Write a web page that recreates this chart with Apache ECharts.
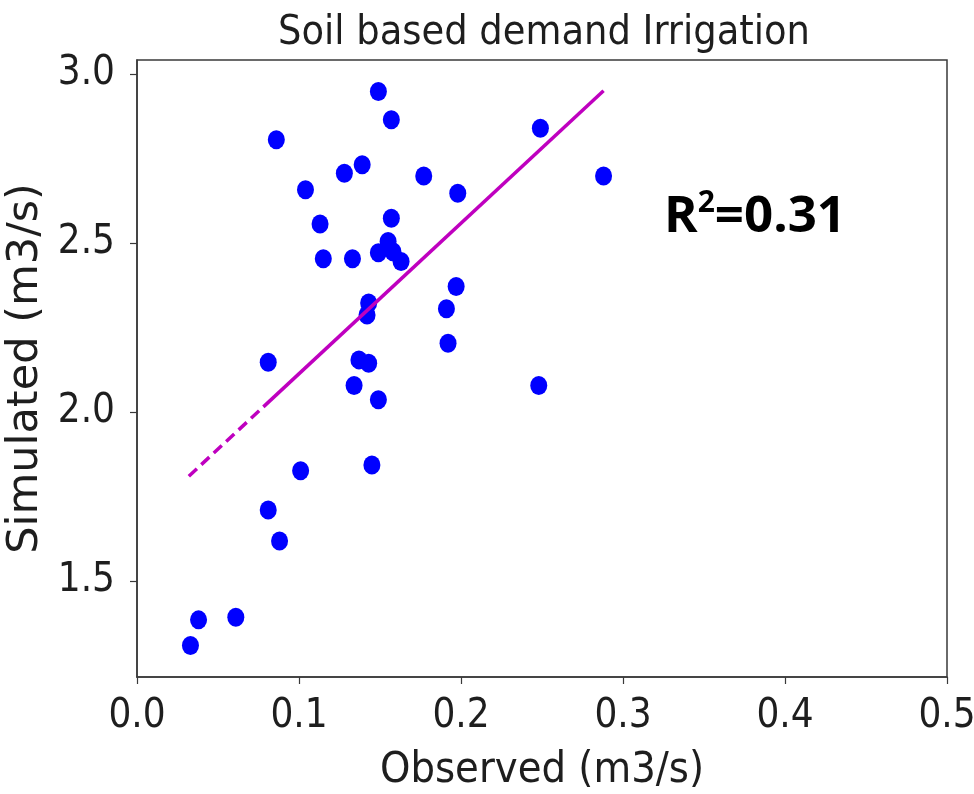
<!DOCTYPE html>
<html>
<head>
<meta charset="utf-8">
<script src="https://cdn.jsdelivr.net/npm/echarts@6/dist/echarts.min.js"></script>
<style>
  html, body { margin: 0; padding: 0; background: #fff; }
  #chart { width: 974px; height: 794px; }
</style>
</head>
<body>
<div id="chart"></div>
<script>
const observed = [
  0.149, 0.157, 0.086, 0.249, 0.139, 0.128, 0.177, 0.288, 0.104, 0.198,
  0.157, 0.113, 0.155, 0.149, 0.158, 0.163, 0.115, 0.133, 0.197, 0.143,
  0.142, 0.191, 0.192, 0.081, 0.137, 0.143, 0.134, 0.248, 0.149, 0.101,
  0.145, 0.081, 0.088, 0.038, 0.061, 0.033,
];
const simulated = [
  2.948, 2.864, 2.805, 2.839, 2.731, 2.706, 2.698, 2.698, 2.657, 2.647,
  2.573, 2.556, 2.504, 2.471, 2.474, 2.445, 2.453, 2.453, 2.371, 2.322,
  2.287, 2.305, 2.203, 2.147, 2.154, 2.144, 2.078, 2.078, 2.036, 1.826,
  1.843, 1.710, 1.618, 1.385, 1.393, 1.309,
];
// fitted line: dashed start, then solid
const fitObs = [0.032, 0.078, 0.288];
const fitSim = [1.81, 2.015, 2.95];

const xTicks = [0, 0.1, 0.2, 0.3, 0.4, 0.5];
const yTicks = [1.5, 2.0, 2.5, 3.0];

const narrowFont = '"DejaVu Sans Condensed", "Liberation Sans Narrow", "DejaVu Sans", sans-serif';
const wideFont = '"DejaVu Sans", sans-serif';
const ink = "#1e1e1e";
const frame = "#3a3a3a";

const chart = echarts.init(document.getElementById("chart"), null, { renderer: "canvas" });

chart.setOption({
  backgroundColor: "#fff",
  animation: false,
  title: {
    text: "Soil based demand Irrigation",
    left: 539,
    textAlign: "center",
    top: 8,
    textStyle: { fontFamily: narrowFont, fontWeight: "normal", fontSize: 41, color: ink },
  },
  grid: {
    left: 137, right: 27, top: 60, bottom: 117,
    outerBoundsMode: "none",
    containLabel: false,
    show: true, borderColor: frame, borderWidth: 1.5, backgroundColor: "#fff",
  },
  xAxis: {
    type: "value",
    min: 0, max: 0.5, interval: 0.1,
    name: "Observed (m3/s)",
    nameLocation: "middle",
    nameGap: 72,
    nameTextStyle: { fontFamily: narrowFont, fontSize: 43, color: ink },
    axisLine: { show: true, onZero: false, lineStyle: { color: frame, width: 1.5 } },
    axisTick: { show: true, length: 7, inside: false, lineStyle: { color: frame, width: 1.2 },
      customValues: xTicks },
    axisLabel: { fontFamily: narrowFont, fontSize: 40, color: ink, margin: 20,
      customValues: xTicks, formatter: (v) => v.toFixed(1) },
    splitLine: { show: false },
  },
  yAxis: {
    type: "value",
    min: 1.216, max: 3.041,
    name: "Simulated (m3/s)",
    nameLocation: "middle",
    nameGap: 72,
    nameTextStyle: { fontFamily: wideFont, fontSize: 43, color: ink },
    axisLine: { show: true, onZero: false, lineStyle: { color: frame, width: 1.5 } },
    axisTick: { show: true, length: 7, inside: false, lineStyle: { color: frame, width: 1.2 },
      customValues: yTicks },
    axisLabel: { fontFamily: narrowFont, fontSize: 40, color: ink, margin: 22,
      customValues: yTicks, formatter: (v) => v.toFixed(1) },
    splitLine: { show: false },
  },
  graphic: [
    {
      type: "text",
      left: 664,
      top: 188,
      style: {
        text: "{a|R}{s|2}{a|=0.31}",
        rich: {
          a: { fontFamily: '"Open Sans", "Noto Sans", sans-serif', fontWeight: "bold", fontSize: 51, lineHeight: 58, color: "#000" },
          s: { fontFamily: '"Open Sans", "Noto Sans", sans-serif', fontWeight: "bold", fontSize: 30, lineHeight: 58, color: "#000", verticalAlign: "top", padding: [0, 0, 20, 0] },
        },
      },
    },
  ],
  series: [
    {
      type: "scatter",
      data: observed.map((x, i) => [x, simulated[i]]),
      symbol: "circle",
      symbolSize: [17, 19],
      itemStyle: { color: "#0000ff", opacity: 1 },
      z: 2,
    },
    {
      type: "line",
      data: fitObs.slice(0, 2).map((x, i) => [x, fitSim[i]]),
      showSymbol: false,
      lineStyle: { color: "#bf00bf", width: 3.5, type: [11, 6] },
      z: 3,
    },
    {
      type: "line",
      data: fitObs.slice(1).map((x, i) => [x, fitSim[i + 1]]),
      showSymbol: false,
      lineStyle: { color: "#bf00bf", width: 3.5 },
      z: 3,
    },
  ],
});
</script>
</body>
</html>
